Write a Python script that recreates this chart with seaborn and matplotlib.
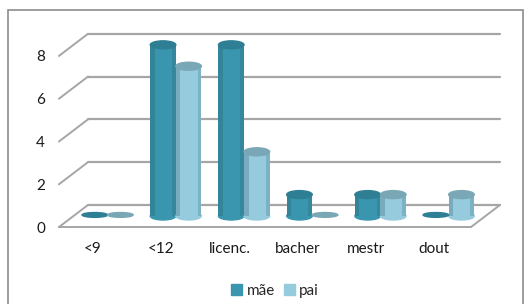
import pandas as pd
import seaborn as sns
import matplotlib.pyplot as plt
from matplotlib.transforms import ScaledTranslation
from matplotlib.patches import Ellipse, Rectangle

categories = ['<9', '<12', 'licenc.', 'bacher', 'mestr', 'dout']
mae = [0, 8, 8, 1, 1, 0]
pai = [0, 7, 3, 0, 1, 1]
yticks = [0, 2, 4, 6, 8]

df = pd.DataFrame({
    'cat': categories * 2,
    'valor': mae + pai,
    'serie': ['mãe'] * len(mae) + ['pai'] * len(pai),
})

sns.set_theme(style="white")
plt.rcParams['font.family'] = ['Lato', 'DejaVu Sans']

W, H = 532, 304
fig = plt.figure(figsize=(W / 100, H / 100), dpi=100)
# axes in the "middle" depth plane of the fake 3d box
left, right, base, top = 73.5, 485.5, 216, 32
ax = fig.add_axes([left / W, (H - base) / H, (right - left) / W, (base - top) / H])

cores = {'mãe': '#3a96ae', 'pai': '#96cbde'}
topos = {'mãe': '#2e7f94', 'pai': '#7aa7b6'}
sns.barplot(data=df, x='cat', y='valor', hue='serie', order=categories,
            hue_order=['mãe', 'pai'], palette=cores, width=0.75,
            saturation=1, ax=ax, legend=False)

ax.set_xlim(-0.5, 5.54)
ax.set_ylim(0, 8.6)

# cylinder tops and a bit of side shading
px_per_unit = (base - top) / 8.6
eh = 8 / px_per_unit
series = ['mãe'] * len(mae) + ['pai'] * len(pai)
for p, s in zip(ax.patches[:len(series)], series):
    p.set_edgecolor('none')
    bx0, w, h = p.get_x(), p.get_width(), p.get_height()
    cx = bx0 + w / 2
    if h == 0:
        ax.add_patch(Ellipse((cx, 0.05), w, eh * 0.6,
                             color=topos[s], zorder=3, clip_on=False))
        continue
    ax.add_patch(Ellipse((cx, 0), w, eh, color=p.get_facecolor(),
                         zorder=2, clip_on=False))
    ax.add_patch(Rectangle((bx0, 0), w * 0.18, h, color='#1d4f5c', alpha=0.25,
                           lw=0, zorder=2.5))
    ax.add_patch(Rectangle((bx0 + w * 0.85, 0), w * 0.15, h, color='#1d4f5c',
                           alpha=0.2, lw=0, zorder=2.5))
    ax.add_patch(Ellipse((cx, h), w, eh, color=topos[s],
                         zorder=3, clip_on=False))

dx, dy = 10.5 / 72, 8 / 72
back = ax.transData + ScaledTranslation(dx, dy, fig.dpi_scale_trans)
front = ax.transData + ScaledTranslation(-dx, -dy, fig.dpi_scale_trans)
x0, x1 = ax.get_xlim()
gc = '#a6a6a6'
for v in yticks:
    ax.plot([x0, x1], [v, v], color=gc, lw=1.6, transform=back, clip_on=False, zorder=0)
    fx, fy = front.transform((x0, v))
    bx, by = back.transform((x0, v))
    fig.add_artist(plt.Line2D([fx / W, bx / W], [fy / H, by / H], color=gc, lw=1.4,
                              transform=fig.transFigure))
ax.plot([x0, x1], [0, 0], color=gc, lw=1.4, transform=front, clip_on=False, zorder=1)
fx, fy = front.transform((x1, 0))
bx, by = back.transform((x1, 0))
fig.add_artist(plt.Line2D([fx / W, bx / W], [fy / H, by / H], color=gc, lw=1.4,
                          transform=fig.transFigure))

ax.set_yticks(yticks)
ax.set_xlabel('')
ax.set_ylabel('')
for s in ax.spines.values():
    s.set_visible(False)
ax.tick_params(axis='y', length=0, pad=10, labelsize=11, labelcolor='#1a1a1a')
ax.tick_params(axis='x', length=0, pad=11, labelsize=11, labelcolor='#1a1a1a')
off = ScaledTranslation(-dx, -dy, fig.dpi_scale_trans)
for lab in ax.get_yticklabels() + ax.get_xticklabels():
    lab.set_transform(lab.get_transform() + off)
ax.patch.set_alpha(0)

handles = [Rectangle((0, 0), 1, 1, color=cores[k]) for k in ['mãe', 'pai']]
fig.legend(handles, ['mãe', 'pai'], loc='center', bbox_to_anchor=(275 / W, 1 - 291 / H),
           ncol=2, frameon=False, fontsize=11, handlelength=0.7, handleheight=0.7,
           handletextpad=0.3, columnspacing=0.6)

fig.add_artist(Rectangle((7.5 / W, -0.1), (523 - 7.5) / W, 1.1 - 10 / H,
                         fill=False, edgecolor='#8c8c8c', lw=1.2,
                         transform=fig.transFigure))

fig.savefig('out.png', dpi=100)
